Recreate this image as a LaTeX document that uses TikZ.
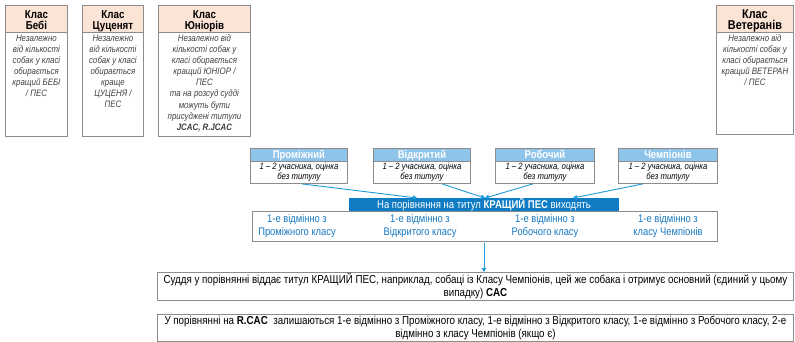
\documentclass[tikz,border=0pt]{standalone}
\usepackage{fontspec}
\setmainfont{Liberation Sans}[FakeStretch=0.85]
\usetikzlibrary{calc,arrows.meta}
\definecolor{peach}{HTML}{FBE3D5}
\definecolor{lblue}{HTML}{8EC3EA}
\definecolor{dblue}{HTML}{0F7CC4}
\definecolor{tblue}{HTML}{1677C0}
\definecolor{aline}{HTML}{1C9AD9}
\definecolor{bord}{HTML}{8C8C8C}
\definecolor{gtext}{HTML}{404040}
\begin{document}
\begin{tikzpicture}[x=1pt,y=-1pt,
  box/.style={draw=bord, line width=0.9pt, inner sep=0pt, anchor=north west, rectangle},
  hdr/.style={box, fill=peach, font=\fontsize{11.5}{11.5}\selectfont\bfseries, align=center, text height=22pt, text depth=0pt},
  bodytxt/.style={anchor=north, inner sep=0pt, align=center, text=gtext, font=\fontsize{9.3}{11.1}\selectfont\itshape},
  mhdr/.style={box, fill=lblue, text=white, font=\fontsize{11.2}{11}\selectfont\bfseries, align=center, text height=8.2pt, text depth=2pt},
  mbody/.style={box, font=\fontsize{9.1}{10}\selectfont\itshape, align=center},
  bluetxt/.style={inner sep=0pt, align=center, text=tblue, font=\fontsize{11}{13}\selectfont},
  conn/.style={draw=aline, line width=0.9pt, -{Triangle[width=4.5pt,length=4pt]}},
  big/.style={box, font=\fontsize{11.5}{13}\selectfont, align=center}
]
\useasboundingbox (0,0) rectangle (795,342);
% top boxes
\node[hdr, minimum width=62pt, minimum height=27pt] (bh) at (5,5) {Клас\\Бебі};
\node[box, minimum width=62pt, minimum height=104pt] (bb) at (5,32) {};
\node[bodytxt] (bt) at ($(bb.north)+(0,2.5)$) {Незалежно\\від кількості\\собак у класі\\обирається\\кращий БЕБІ\\/ ПЕС};

\node[hdr, minimum width=61pt, minimum height=27pt] (ch) at (82,5) {Клас\\Цуценят};
\node[box, minimum width=61pt, minimum height=104pt] (cb) at (82,32) {};
\node[bodytxt] (ct) at ($(cb.north)+(0,2.5)$) {Незалежно\\від кількості\\собак у класі\\обирається\\краще\\ЦУЦЕНЯ /\\ПЕС};

\node[hdr, minimum width=92pt, minimum height=27pt] (jh) at (158,5) {Клас\\Юніорів};
\node[box, minimum width=92pt, minimum height=104pt] (jb) at (158,32) {};
\node[bodytxt] (jt) at ($(jb.north)+(0,2.5)$) {Незалежно від\\кількості собак у\\класі обирається\\кращий ЮНІОР /\\ПЕС\\та на розсуд судді\\можуть бути\\присуджені титули\\\textbf{JCAC, R.JCAC}};

\node[hdr, minimum width=77pt, minimum height=27pt, font=\fontsize{12.8}{11.5}\selectfont\bfseries] (vh) at (716,5) {Клас\\Ветеранів};
\node[box, minimum width=77pt, minimum height=102pt] (vb) at (716,32) {};
\node[bodytxt] (vt) at ($(vb.north)+(0,2.5)$) {Незалежно від\\кількості собак у\\класі обирається\\кращий ВЕТЕРАН\\/ ПЕС};

% middle boxes
\node[mhdr, minimum width=97pt, minimum height=13pt] (ph) at (250,148) {Проміжний};
\node[mbody, minimum width=97pt, minimum height=22pt] (pb) at (250,161) {1 – 2 учасника, оцінка\\без титулу};
\node[mhdr, minimum width=97pt, minimum height=13pt] (oh) at (373,148) {Відкритий};
\node[mbody, minimum width=97pt, minimum height=22pt] (ob) at (373,161) {1 – 2 учасника, оцінка\\без титулу};
\node[mhdr, minimum width=99pt, minimum height=13pt] (rh) at (495,148) {Робочий};
\node[mbody, minimum width=99pt, minimum height=22pt] (rb) at (495,161) {1 – 2 учасника, оцінка\\без титулу};
\node[mhdr, minimum width=99pt, minimum height=13pt] (chh) at (618,148) {Чемпіонів};
\node[mbody, minimum width=99pt, minimum height=22pt] (chb) at (618,161) {1 – 2 учасника, оцінка\\без титулу};

% bar
\node[box, draw=dblue, fill=dblue, text=white, minimum width=269pt, minimum height=13pt, text height=8.2pt, text depth=2pt, font=\fontsize{11.2}{11}\selectfont] (bar) at (349,198) {На порівняння на титул \textbf{КРАЩИЙ ПЕС} виходять};
\node[box, minimum width=465pt, minimum height=30pt] (lb) at (252,211) {};
\node[bluetxt] (l1) at (297,226.5) {1-е відмінно з\\Проміжного класу};
\node[bluetxt] (l2) at (420,226.5) {1-е відмінно з\\Відкритого класу};
\node[bluetxt] (l3) at (545,226.5) {1-е відмінно з\\Робочого класу};
\node[bluetxt] (l4) at (668,226.5) {1-е відмінно з\\класу Чемпіонів};

% connectors
\coordinate (t1) at (417,198);
\coordinate (t2) at (485,198);
\coordinate (t3) at (573,198);
\draw[conn] ($(pb.south)+(3,0)$) -- (t1);
\draw[conn] ($(ob.south)+(20,0)$) -- (t2);
\draw[conn] ($(rb.south)+(-12,0)$) -- (t2);
\draw[conn] ($(chb.south)+(-25,0)$) -- (t3);

% bottom boxes
\node[big, minimum width=636pt, minimum height=28pt] (s1) at (157,272) {Суддя у порівнянні віддає титул КРАЩИЙ ПЕС, наприклад, собаці із Класу Чемпіонів, цей же собака і отримує основний (єдиний у цьому\\випадку) \textbf{CAC}};
\node[big, minimum width=636pt, minimum height=27pt] (s2) at (157,314) {У порівнянні на \textbf{R.CAC}\ \ залишаються 1-е відмінно з Проміжного класу, 1-е відмінно з Відкритого класу, 1-е відмінно з Робочого класу, 2-е\\відмінно з класу Чемпіонів (якщо є)};
\draw[conn] (lb.south) ++(-1,1) coordinate (d0) (d0) -- (d0 |- s1.north);
\end{tikzpicture}
\end{document}
